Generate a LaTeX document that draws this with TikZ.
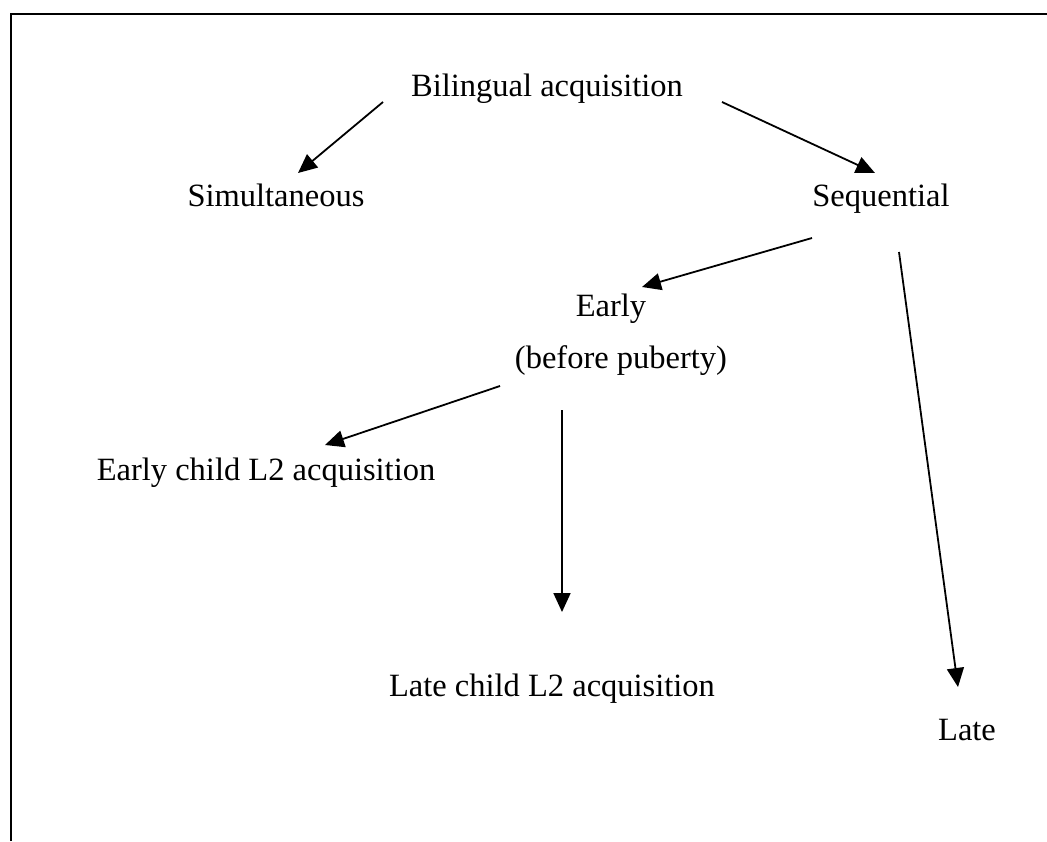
\documentclass[tikz,border=0pt]{standalone}
\usepackage{fontspec}
\setmainfont{Liberation Serif}
\usetikzlibrary{arrows.meta}
\begin{document}
\begin{tikzpicture}[x=1pt,y=-1pt,
  lbl/.style={anchor=base,inner sep=0pt,font=\fontsize{32.5}{38}\selectfont},
  arr/.style={line width=1.8pt,-{Triangle[length=19pt,width=17pt]}},
  frame/.style={line width=2pt}]
\useasboundingbox (0,0) rectangle (1047,841);
\draw[frame] (10.5,841) -- (10.5,13.5) -- (1047,13.5);
% labels
\node[lbl] (bil) at (547,96) {Bilingual acquisition};
\node[lbl] (sim) at (276,206) {Simultaneous};
\node[lbl] (seq) at (881,206) {Sequential};
\node[lbl] (early) at (611,316) {Early};
\node[lbl] (before) at (621,368) {(before puberty)};
\node[lbl] (ecl) at (266,480) {Early child L2 acquisition};
\node[lbl] (lcl) at (552,696) {Late child L2 acquisition};
\node[lbl] (late) at (967,740) {Late};
% arrow ends
\coordinate (b1) at (383,102);
\coordinate (s1) at (298,173);
\coordinate (b2) at (722,102);
\coordinate (q1) at (875,173);
\coordinate (q2) at (812,238);
\coordinate (e1) at (642,287);
\coordinate (q3) at (899,252);
\coordinate (l1) at (958,687);
\coordinate (p1) at (500,386);
\coordinate (c1) at (325,445);
\coordinate (p2) at (562,410);
\coordinate (c2) at (562,612);
\draw[arr] (b1) -- (s1);
\draw[arr] (b2) -- (q1);
\draw[arr] (q2) -- (e1);
\draw[arr] (q3) -- (l1);
\draw[arr] (p1) -- (c1);
\draw[arr] (p2) -- (c2);
\end{tikzpicture}
\end{document}
